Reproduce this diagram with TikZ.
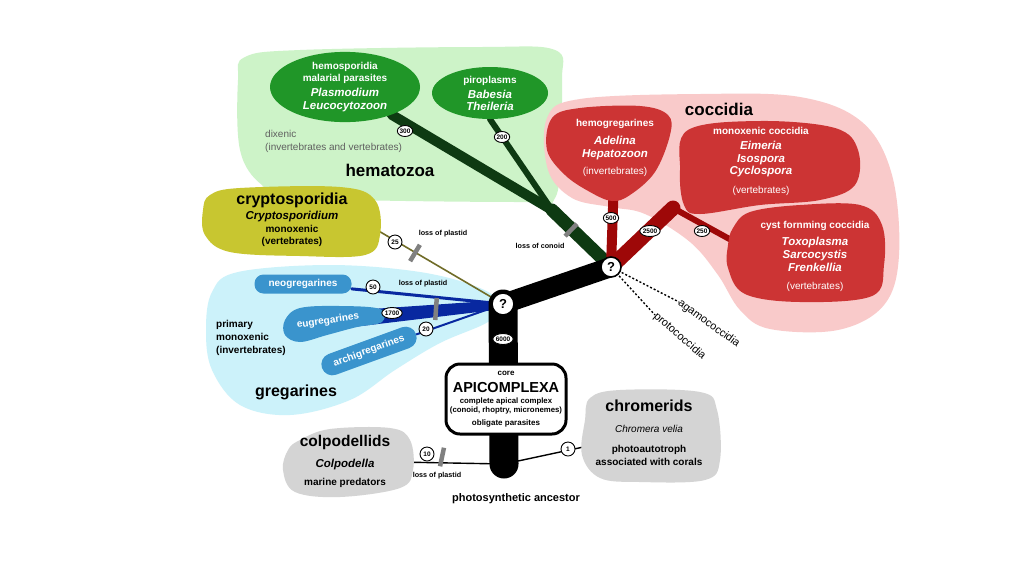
\documentclass[tikz,border=0pt]{standalone}
\usepackage{fontspec}
\setmainfont{Liberation Sans}
\usetikzlibrary{shapes.geometric, backgrounds, calc}

\definecolor{hemalight}{RGB}{205,243,200}
\definecolor{hemafill}{RGB}{32,150,40}
\definecolor{hemabranch}{RGB}{14,58,18}
\definecolor{coccilight}{RGB}{249,202,202}
\definecolor{coccifill}{RGB}{204,52,52}
\definecolor{coccibranch}{RGB}{158,8,8}
\definecolor{cryptofill}{RGB}{200,198,48}
\definecolor{cryptoline}{RGB}{112,108,40}
\definecolor{gregalight}{RGB}{204,242,250}
\definecolor{gregafill}{RGB}{58,148,205}
\definecolor{gregabranch}{RGB}{8,40,160}
\definecolor{basalfill}{RGB}{212,212,212}
\definecolor{lossgray}{RGB}{128,128,128}
\definecolor{notegray}{RGB}{95,95,95}

\pgfdeclarelayer{regions}
\pgfdeclarelayer{branches}
\pgfsetlayers{regions,branches,main}

\newcommand{\taxon}[1]{{\itshape\fontsize{11.5}{14}\selectfont #1}}
\newcommand{\hostnote}[1]{{\mdseries #1}}

\tikzset{
  blobtext/.style={text=white, align=center, inner sep=0pt,
    font=\bfseries\fontsize{10}{13}\selectfont},
  darktext/.style={text=black, align=center, inner sep=0pt,
    font=\bfseries\fontsize{10}{13}\selectfont},
  cladetitle/.style={inner sep=0pt, font=\bfseries\fontsize{#1}{#1}\selectfont},
  cladeblob/.style={ellipse, fill=hemafill, text=white, align=center,
    inner sep=0pt, font=\bfseries\fontsize{10}{12}\selectfont},
  gregapill/.style={rectangle, rounded corners=9pt, fill=gregafill, text=white,
    inner sep=0pt, minimum height=19pt, font=\bfseries\fontsize{10}{10}\selectfont},
  cntoval/.style={ellipse, draw, fill=white, line width=0.9pt, inner xsep=0pt,
    inner ysep=0pt, minimum height=11pt, minimum width=15pt,
    font=\bfseries\fontsize{6.5}{6.5}\selectfont},
  cntround/.style={circle, draw, fill=white, line width=0.9pt, inner sep=0pt,
    minimum size=14pt, font=\bfseries\fontsize{6.5}{6.5}\selectfont},
  lossbar/.style={rectangle, fill=lossgray, inner sep=0pt,
    minimum width=4.5pt, minimum height=19pt},
  losstext/.style={inner sep=0pt, font=\bfseries\fontsize{7.2}{7.2}\selectfont},
  qnode/.style={circle, draw, fill=white, line width=1.6pt, inner sep=0pt,
    minimum size=#1, font=\bfseries\fontsize{13}{13}\selectfont},
  corebox/.style={rectangle, rounded corners=14pt, draw, line width=3pt,
    fill=white, minimum width=120pt, minimum height=70pt, align=center,
    inner sep=0pt, font=\bfseries\fontsize{8}{10}\selectfont},
  branch/.style={draw=#1, line cap=round, line join=round},
  sidebranch/.style={draw=#1, dash pattern=on 2pt off 2pt, line width=1.4pt},
  sidetext/.style={anchor=west, inner sep=0pt, font=\fontsize{11}{11}\selectfont},
}

\begin{document}
\begin{tikzpicture}[x=1pt, y=-1pt]
\useasboundingbox (0,0) rectangle (1024,574);

% Hintergrund und Gruppen
\begin{pgfonlayer}{regions}
\fill[white] (0,0) rectangle (1024,574);
\fill[hemalight] plot[smooth cycle, tension=0.6] coordinates {
  (245,57) (300,50) (480,47) (555,50) (562,80) (560,140) (555,198)
  (520,202) (300,198) (262,185) (240,150) (238,80)};
\fill[coccilight] plot[smooth cycle, tension=0.6] coordinates {
  (547,118) (580,99) (700,94) (800,97) (862,122) (892,175) (899,255)
  (884,305) (838,330) (770,329) (740,310) (718,275) (690,242) (645,214)
  (610,207) (572,198) (548,170)};
\fill[gregalight] plot[smooth cycle, tension=0.6] coordinates {
  (212,292) (238,272) (330,265) (420,272) (480,288) (500,305) (488,322)
  (440,343) (395,370) (350,400) (290,415) (240,405) (212,370) (206,330)};
\end{pgfonlayer}

% Hematozoa
\node[cladeblob, minimum width=150pt, minimum height=62pt] (hemo) at (345,87)
  {hemosporidia\\malarial parasites\\[3pt]\taxon{Plasmodium}\\[1pt]\taxon{Leucocytozoon}};
\node[cladeblob, minimum width=116pt, minimum height=52pt] (piro) at (490,93)
  {piroplasms\\[3pt]\taxon{Babesia}\\\taxon{Theileria}};
\node[anchor=west, align=left, text=notegray, inner sep=0pt,
  font=\fontsize{10}{13}\selectfont] (dixenic) at (265,141)
  {dixenic\\(invertebrates and vertebrates)};
\node[cladetitle=17] (hematozoa) at (390,170) {hematozoa};

% Coccidia
\node[cladetitle=17] (coccidia) at (719,109) {coccidia};
\fill[coccifill] plot[smooth cycle, tension=0.6] coordinates {
  (547,150) (552,118) (580,108) (640,106) (668,115) (670,135) (655,172)
  (630,195) (612,201) (590,192) (565,175)};
\fill[coccifill] plot[smooth cycle, tension=0.6] coordinates {
  (688,130) (760,121) (835,128) (858,150) (855,185) (820,200) (760,205)
  (700,214) (684,205) (680,170)};
\fill[coccifill] plot[smooth cycle, tension=0.6] coordinates {
  (733,228) (750,212) (800,205) (860,205) (882,225) (884,265) (872,296)
  (800,302) (745,294) (728,268) (728,245)};
\node[blobtext] (hemog) at (615,148)
  {hemogregarines\\[5pt]\taxon{Adelina}\\\taxon{Hepatozoon}\\[4pt]\hostnote{(invertebrates)}};
\node[blobtext] (monox) at (761,161)
  {monoxenic coccidia\\[2pt]\taxon{Eimeria}\\\taxon{Isospora}\\[-1pt]\taxon{Cyclospora}\\[6pt]\hostnote{(vertebrates)}};
\node[blobtext] (cyst) at (815,256)
  {cyst fornming coccidia\\[4pt]\taxon{Toxoplasma}\\\taxon{Sarcocystis}\\\taxon{Frenkellia}\\[5pt]\hostnote{(vertebrates)}};
\coordinate (cocciTip) at (673,208);

% Cryptosporidia
\fill[cryptofill] plot[smooth cycle, tension=0.6] coordinates {
  (210,195) (240,188) (340,187) (375,200) (380,235) (365,255) (300,256)
  (230,252) (205,235) (203,210)};
\node[darktext] (crypto) at (292,220)
  {{\fontsize{16}{16}\selectfont cryptosporidia}\\[2pt]\taxon{Cryptosporidium}\\monoxenic\\[-1pt](vertebrates)};
\coordinate (cryptoEdge) at (377,230);

% Gregarines
\node[gregapill, minimum width=97pt] (neo) at (303,284) {neogregarines};
\fill[gregafill] plot[smooth cycle, tension=0.6] coordinates {
  (285,320) (300,308) (340,306) (380,309) (382,322) (357,327) (327,335)
  (300,342) (285,335)};
\node[blobtext, rotate=8] (eugre) at (328,321) {eugregarines};
\node[gregapill, minimum width=100pt, minimum height=22pt, rounded corners=11pt,
  rotate=20] (archi) at (369,351) {archigregarines};
\node[darktext, align=left, anchor=west] (primary) at (216,338)
  {primary\\monoxenic\\(invertebrates)};
\node[cladetitle=16] (gregarines) at (296,392) {gregarines};

% Tronc
\node[qnode=20pt] (q1) at (611,267) {?};
\node[qnode=22pt] (q2) at (503,304) {?};
\coordinate (ancestor) at (504,464);
\node[corebox] (core) at (506,399)
  {core\\[6pt]{\fontsize{14.5}{14.5}\selectfont APICOMPLEXA}\\[1pt]
   {\fontsize{7.8}{8}\selectfont complete apical complex}\\[-1pt]
   {\fontsize{7.8}{8}\selectfont (conoid, rhoptry, micronemes)}\\[3pt]obligate parasites};
\node[cladetitle=11] (photo) at (516,499) {photosynthetic ancestor};

% Colpodellids / chromerids
\fill[basalfill] plot[smooth cycle, tension=0.6] coordinates {
  (300,440) (330,429) (390,428) (410,440) (413,470) (400,488) (340,497)
  (295,492) (283,470) (288,450)};
\fill[basalfill] plot[smooth cycle, tension=0.6] coordinates {
  (590,398) (620,390) (700,392) (717,410) (720,460) (705,480) (640,482)
  (600,478) (582,455) (585,420)};
\node[darktext] (colpo) at (345,461)
  {{\fontsize{15.5}{15.5}\selectfont colpodellids}\\[8pt]\taxon{Colpodella}\\[5pt]marine predators};
\node[darktext] (chromer) at (649,433)
  {{\fontsize{16}{16}\selectfont chromerids}\\[8pt]{\mdseries\itshape Chromera velia}\\[7pt]photoautotroph\\associated with corals};

% Agamococcidia, protococcidia
\node[sidetext, rotate=-36] (agamo) at (679,302) {agamococcidia};
\node[sidetext, rotate=-41] (proto) at (655,315) {protococcidia};

% Branches
\coordinate (hemaJoin) at (552,210);
\begin{pgfonlayer}{branches}
\draw[branch=hemabranch, line width=10pt] (hemo) -- (hemaJoin);
\draw[branch=hemabranch, line width=6pt] (piro.south) -- (hemaJoin);
\draw[branch=hemabranch, line width=13pt] (hemaJoin) -- (q1.center);
\draw[branch=coccibranch, line width=10pt] (hemog) -- (q1.center);
\draw[branch=coccibranch, line width=15pt] (q1.center) -- (cocciTip);
\draw[branch=coccibranch, line width=6pt] (cocciTip) -- (cyst.west);
\draw[sidebranch=black] (q1.center) -- (agamo.west);
\draw[sidebranch=black] (q1.center) -- (proto.west);
\draw[branch=cryptoline, line width=1.6pt] (cryptoEdge) -- (q2.center);
\draw[branch=gregabranch, line width=3pt] (neo) -- (q2.center);
\draw[branch=gregabranch, line width=2pt] (archi) -- (q2.center);
\fill[gregabranch] ($(eugre.center)+(0,-9)$) -- ($(q2.center)+(0,-4)$)
  -- ($(q2.center)+(0,5)$) -- ($(eugre.center)+(0,9)$) -- cycle;
\draw[branch=black, line width=1.4pt] (colpo) -- (ancestor);
\draw[branch=black, line width=1.4pt] (ancestor) -- (chromer);
\draw[branch=black, line width=20pt] (q2.center) -- (q1.center);
\draw[branch=black, line width=29pt] (q2.center) -- (ancestor);
\end{pgfonlayer}

% Zahlen
\node[cntoval] (n300) at (405,131) {300};
\node[cntoval] (n200) at (502,137) {200};
\node[cntoval] (n500) at (611,218) {500};
\node[cntoval] (n2500) at (650,231) {2500};
\node[cntoval] (n250) at (702,231) {250};
\node[cntoval] (n6000) at (503,339) {6000};
\node[cntoval] (n1700) at (392,313) {1700};
\node[cntround] (n25) at (395,242) {25};
\node[cntround] (n50) at (373,287) {50};
\node[cntround] (n20) at (426,329) {20};
\node[cntround] (n10) at (427,454) {10};
\node[cntround] (n1) at (568,449) {1};

% Verluste
\node[lossbar, rotate=-31] (plastidCrypto) at (415,253) {};
\node[lossbar, rotate=-4, minimum height=22pt] (plastidGrega) at (436,309) {};
\node[lossbar, rotate=-44, minimum height=17pt] (conoidLoss) at (571,230) {};
\node[lossbar, rotate=-12] (plastidColpo) at (442,457) {};
\node[losstext] (lossCrypto) at (443,234) {loss of plastid};
\node[losstext] (lossGrega) at (423,284) {loss of plastid};
\node[losstext] (lossConoid) at (540,246) {loss of conoid};
\node[losstext] (lossColpo) at (437,476) {loss of plastid};
\end{tikzpicture}
\end{document}
